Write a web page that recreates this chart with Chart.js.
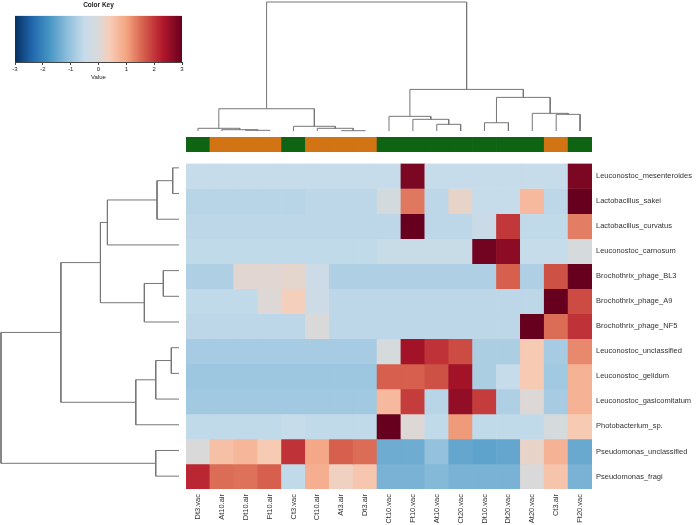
<!DOCTYPE html>
<html>
<head>
<meta charset="utf-8">
<script src="https://cdn.jsdelivr.net/npm/chart.js@4.4.1/dist/chart.umd.min.js"></script>
<style>
  body { margin: 0; background: #fff; }
  #wrap { position: relative; width: 696px; height: 525px; overflow: hidden; }
  canvas { position: absolute; }
</style>
</head>
<body>
<div id="wrap">
  <canvas id="key" width="190" height="81" style="left:0;top:0"></canvas>
  <canvas id="colTree" width="406" height="137" style="left:186px;top:0"></canvas>
  <canvas id="colBar" width="406" height="15" style="left:186px;top:137px"></canvas>
  <canvas id="rowTree" width="186" height="334" style="left:0;top:155px"></canvas>
  <canvas id="heat" width="510" height="370" style="left:186px;top:155px"></canvas>
</div>
<script>
Chart.defaults.font.family = "'Liberation Sans', Arial, sans-serif";
Chart.defaults.color = "#222";
Chart.defaults.animation = false;
Chart.defaults.plugins.legend.display = false;
Chart.defaults.plugins.tooltip.enabled = false;

const samples = ["Dt3.vac", "At10.air", "Dt10.air", "Ft10.air", "Ct3.vac", "Ct10.air", "At3.air", "Dt3.air",
    "Ct10.vac", "Ft10.vac", "At10.vac", "Ct20.vac", "Dt10.vac", "Dt20.vac", "At20.vac", "Ct3.air", "Ft20.vac"];
const sampleGroup = ["vac", "air", "air", "air", "vac", "air", "air", "air",
    "vac", "vac", "vac", "vac", "vac", "vac", "vac", "air", "vac"];
const taxa = ["Leuconostoc_mesenteroides", "Lactobacillus_sakei", "Lactobacillus_curvatus", "Leuconostoc_carnosum",
    "Brochothrix_phage_BL3", "Brochothrix_phage_A9", "Brochothrix_phage_NF5", "Leuconostoc_unclassified",
    "Leuconostoc_gelidum", "Leuconostoc_gasicomitatum", "Photobacterium_sp.", "Pseudomonas_unclassified",
    "Pseudomonas_fragi"];

// row z-scores, one row per taxon, columns in sample order
const zScores = [
    [-0.5, -0.5, -0.5, -0.5, -0.5, -0.5, -0.5, -0.5, -0.5, 2.8, -0.5, -0.5, -0.5, -0.5, -0.5, -0.5, 2.8],
    [-0.65, -0.65, -0.65, -0.65, -0.65, -0.6, -0.6, -0.6, -0.15, 1.4, -0.6, 0.2, -0.5, -0.5, 0.7, -0.6, 3.0],
    [-0.6, -0.6, -0.6, -0.6, -0.6, -0.6, -0.6, -0.6, -0.6, 3.0, -0.6, -0.6, -0.4, 2.0, -0.55, -0.55, 1.35],
    [-0.55, -0.55, -0.55, -0.55, -0.55, -0.55, -0.55, -0.55, -0.45, -0.45, -0.45, -0.45, 2.9, 2.65, -0.5, -0.5, -0.1],
    [-0.75, -0.75, 0.1, 0.1, 0.15, -0.35, -0.75, -0.75, -0.75, -0.75, -0.75, -0.75, -0.75, 1.6, -0.75, 1.75, 3.0],
    [-0.55, -0.55, -0.55, 0.05, 0.35, -0.35, -0.6, -0.6, -0.6, -0.6, -0.6, -0.6, -0.6, -0.6, -0.6, 3.0, 1.8],
    [-0.6, -0.6, -0.6, -0.6, -0.6, 0.0, -0.6, -0.6, -0.6, -0.6, -0.6, -0.6, -0.6, -0.6, 3.0, 1.5, 2.05],
    [-0.85, -0.85, -0.85, -0.85, -0.85, -0.85, -0.85, -0.85, -0.1, 2.45, 2.05, 1.8, -0.8, -0.8, 0.45, -0.85, 1.25],
    [-0.95, -0.95, -0.95, -0.95, -0.95, -0.95, -0.95, -0.95, 1.6, 1.6, 1.75, 2.45, -0.8, -0.5, 0.45, -0.9, 0.8],
    [-0.9, -0.9, -0.9, -0.9, -0.9, -0.9, -0.9, -0.9, 0.7, 1.95, -0.65, 2.6, 1.95, -0.75, 0.05, -0.85, 0.8],
    [-0.55, -0.55, -0.55, -0.55, -0.5, -0.55, -0.55, -0.55, 3.0, 0.05, -0.55, 1.1, -0.55, -0.55, -0.55, -0.1, 0.45],
    [0.0, 0.6, 0.75, 0.45, 2.05, 0.95, 1.6, 1.5, -1.4, -1.4, -1.05, -1.5, -1.55, -1.5, 0.2, 0.8, -1.45],
    [2.15, 1.5, 1.45, 1.6, -0.55, 0.85, 0.3, 0.5, -1.3, -1.3, -1.2, -1.3, -1.3, -1.3, 0.0, 0.55, -1.3],
];
const keyTicks = [-3, -2, -1, 0, 1, 2, 3];

// dendrograms as [height, left, right]; numbers are leaf positions
const colTree = [129.3,
    [22.3, [2.7, 0, [1.3, 1, [0.7, 2, 3]]], [4.7, 4, [2.7, 5, [0.3, 6, 7]]]],
    [41.7, [14.7, 8, [11.7, 9, [6.7, 10, 11]]], [33.7, [8.3, 12, 13], [17.7, 14, [16.7, 15, 16]]]]];
const rowTree = [178.3,
    [118.3, [78.7, [71.7, [22, [6.3, 0, 1], 2], 3], [34.7, [15.7, 4, 5], 6]], [43.3, [23.3, [7.7, 7, 8], 9], 10]],
    [23.3, 11, 12]];

const GROUP_COLORS = { vac: "#0f6414", air: "#d27314" };
const LINE = "#767676";
const RAMP = [
    [-3, [5, 48, 97]], [-2.4, [33, 102, 172]], [-1.8, [67, 147, 195]], [-1.1, [143, 191, 220]],
    [-0.5, [198, 220, 234]], [0, [217, 217, 217]], [0.4, [247, 205, 184]], [1.0, [244, 165, 130]],
    [1.6, [214, 96, 77]], [2.3, [178, 24, 43]], [3, [103, 0, 31]],
];

function lerp(a, b, t) {
    return Math.round(a + (b - a) * t);
}

function colorFor(v) {
    v = Math.max(-3, Math.min(3, v));
    for (let i = 0; i < RAMP.length - 1; i++) {
        const [v1, c1] = RAMP[i];
        const [v2, c2] = RAMP[i + 1];
        if (v <= v2) {
            const t = (v - v1) / (v2 - v1);
            return `rgb(${lerp(c1[0], c2[0], t)},${lerp(c1[1], c2[1], t)},${lerp(c1[2], c2[2], t)})`;
        }
    }
    return `rgb(${RAMP[RAMP.length - 1][1].join(",")})`;
}

function treeSegments(node, out) {
    if (typeof node === "number") return { pos: node, h: 0 };
    const [h, l, r] = node;
    const a = treeSegments(l, out);
    const b = treeSegments(r, out);
    out.push([[a.pos, a.h], [a.pos, h], [b.pos, h], [b.pos, b.h]]);
    return { pos: (a.pos + b.pos) / 2, h };
}

function treeDatasets(tree, horizontal) {
    const segs = [];
    treeSegments(tree, segs);
    return segs.map(s => ({
        data: s.map(([p, h]) => horizontal ? { x: h, y: p } : { x: p, y: h }),
        showLine: true,
        borderColor: LINE,
        borderWidth: 1,
        pointRadius: 0,
        tension: 0,
        clip: false,
    }));
}

// colour key
function keyGradient(ctx) {
    const chart = ctx.chart;
    if (!chart.chartArea) return null;
    const xs = chart.scales.x;
    const g = chart.ctx.createLinearGradient(xs.getPixelForValue(-3), 0, xs.getPixelForValue(3), 0);
    RAMP.forEach(([v, c]) => g.addColorStop((v + 3) / 6, `rgb(${c.join(",")})`));
    return g;
}

new Chart(document.getElementById("key"), {
    type: "bar",
    data: {
        labels: [""],
        datasets: [{
            data: [[keyTicks[0], keyTicks[keyTicks.length - 1]]],
            backgroundColor: keyGradient,
            borderWidth: 0,
            barPercentage: 1,
            categoryPercentage: 1,
        }],
    },
    options: {
        indexAxis: "y",
        responsive: false,
        events: [],
        layout: { padding: { left: 15, right: 8 } },
        plugins: {
            title: { display: true, text: "Color Key", color: "#222", font: { size: 6.5, weight: "bold" }, padding: { top: 1, bottom: 7 } },
        },
        scales: {
            x: {
                type: "linear", min: -3, max: 3,
                afterBuildTicks: s => { s.ticks = keyTicks.map(v => ({ value: v })); },
                ticks: { font: { size: 6 }, padding: 1 },
                grid: { drawOnChartArea: false, tickLength: 3, color: "#444" },
                border: { color: "#444" },
                title: { display: true, text: "Value", font: { size: 6 }, padding: 0 },
                afterFit: s => { s.height = 19; },
            },
            y: { display: false },
        },
    },
});

// column dendrogram
new Chart(document.getElementById("colTree"), {
    type: "scatter",
    data: { datasets: treeDatasets(colTree, false) },
    options: {
        responsive: false,
        events: [],
        layout: { padding: { top: 2, bottom: 6 } },
        scales: {
            x: { type: "linear", min: -0.5, max: samples.length - 0.5, display: false },
            y: { type: "linear", min: 0, max: colTree[0], display: false },
        },
    },
});

// sample group bar
new Chart(document.getElementById("colBar"), {
    type: "bar",
    data: {
        labels: samples,
        datasets: [{
            data: samples.map(() => 1),
            backgroundColor: sampleGroup.map(g => GROUP_COLORS[g]),
            borderWidth: 0,
            barPercentage: 1,
            categoryPercentage: 1,
        }],
    },
    options: {
        responsive: false,
        events: [],
        scales: {
            x: { display: false },
            y: { display: false, min: 0, max: 1 },
        },
    },
});

// row dendrogram
new Chart(document.getElementById("rowTree"), {
    type: "scatter",
    data: { datasets: treeDatasets(rowTree, true) },
    options: {
        responsive: false,
        events: [],
        layout: { padding: { left: 1, right: 7 } },
        scales: {
            x: { type: "linear", min: 0, max: rowTree[0], reverse: true, display: false },
            y: { type: "linear", min: -0.5, max: taxa.length - 0.5, reverse: true, display: false },
        },
    },
});

// heatmap
new Chart(document.getElementById("heat"), {
    type: "bar",
    data: {
        labels: samples,
        datasets: taxa.map((name, r) => ({
            label: name,
            data: samples.map(() => 1),
            backgroundColor: zScores[r].map(colorFor),
            borderWidth: 0,
            barPercentage: 1,
            categoryPercentage: 1,
        })),
    },
    options: {
        responsive: false,
        events: [],
        scales: {
            x: {
                stacked: true,
                grid: { display: false, drawTicks: false },
                border: { display: false },
                ticks: { autoSkip: false, minRotation: 90, maxRotation: 90, padding: 5, color: "#333", font: { size: 7.5 } },
                afterFit: s => { s.height = 36; },
            },
            y: {
                stacked: true, reverse: true, min: 0, max: taxa.length, position: "right",
                grid: { display: false, drawTicks: false },
                border: { display: false },
                afterBuildTicks: s => { s.ticks = taxa.map((_, i) => ({ value: i + 0.5 })); },
                ticks: { callback: v => taxa[Math.floor(v)], padding: 4, color: "#333", font: { size: 7.5 } },
                afterFit: s => { s.width = 104; },
            },
        },
    },
});
</script>
</body>
</html>
